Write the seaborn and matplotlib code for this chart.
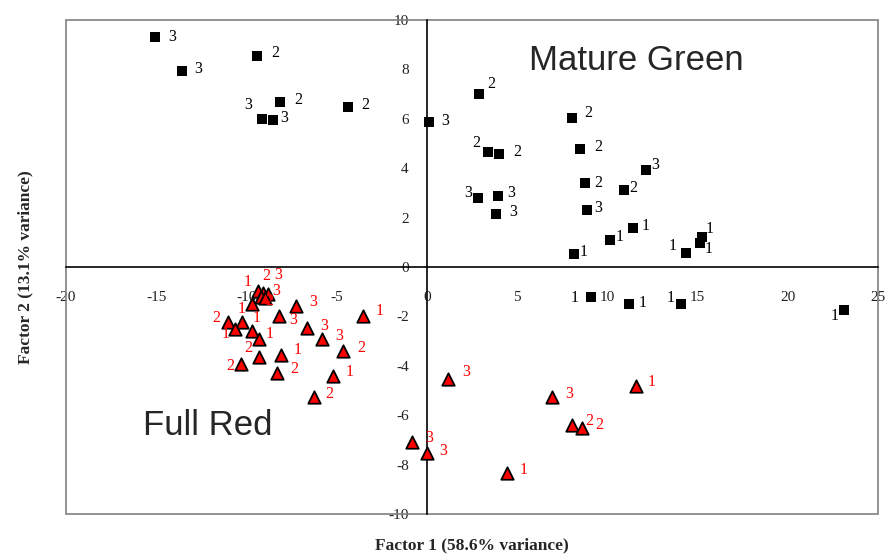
import matplotlib
matplotlib.use("Agg")
import matplotlib.pyplot as plt
from matplotlib.patches import Rectangle
import pandas as pd
import seaborn as sns

# Mature Green samples (black squares)
mg_x = [-15.07, -9.40, -13.59, -8.14, -9.12, -8.51, -4.36, 0.09, 2.88, 3.36,
        3.97, 2.83, 3.95, 3.81, 8.05, 8.48, 8.77, 8.85, 10.95, 12.17,
        8.13, 10.16, 11.43, 14.35, 15.12, 15.27, 9.07, 11.21, 14.11, 23.10]
mg_y = [9.32, 8.55, 7.94, 6.69, 5.99, 5.95, 6.47, 5.86, 6.99, 4.64,
        4.57, 2.81, 2.87, 2.15, 6.02, 4.79, 3.39, 2.31, 3.12, 3.91,
        0.53, 1.08, 1.57, 0.57, 0.98, 1.23, -1.23, -1.50, -1.50, -1.74]
mg_lab = ['3', '2', '3', '2', '3', '3', '2', '3', '2', '2',
          '2', '3', '3', '3', '2', '2', '2', '3', '2', '3',
          '1', '1', '1', '1', '1', '1', '1', '1', '1', '1']
# label offsets in pixels (right, down)
mg_dx = [17, 18, 17, 18, -14, 11, 17, 17, 12, -11,
         19, -10, 13, 18, 16, 18, 13, 12, 9, 9,
         10, 9, 13, -13, 9, 7, -16, 13, -11, -9]
mg_dy = [2, -1, 0, 0, -12, 0, 0, 1, -8, -7,
         0, -3, -1, 0, -3, 0, 2, 0, 0, -3,
         0, -1, 0, -5, 8, -6, 3, 1, -4, 8]

# Full Red samples (red triangles)
fr_x = [-9.36, -9.10, -8.81, -9.20, -8.98, -9.71, -11.02, -10.25, -10.62, -9.68,
        -9.29, -9.29, -10.29, -8.11, -8.31, -8.20, -7.26, -6.66, -5.82, -4.64,
        -5.22, -6.28, -3.56, 1.15, 6.93, 8.02, 8.57, 11.58, -0.85, -0.02, 4.42]
fr_y = [-0.96, -1.04, -1.09, -1.21, -1.25, -1.50, -2.21, -2.21, -2.52, -2.59,
        -2.93, -3.66, -3.93, -3.56, -4.30, -1.98, -1.58, -2.46, -2.93, -3.40,
        -4.41, -5.28, -1.98, -4.55, -5.25, -6.40, -6.53, -4.82, -7.07, -7.54, -8.33]
fr_lab = ['1', '2', '3', '3', '2', '1', '2', '1', '1', '',
          '1', '2', '2', '1', '2', '3', '3', '3', '3', '2',
          '1', '2', '1', '3', '3', '2', '2', '1', '3', '3', '1']
fr_dx = [-10, 4, 10, 15, 4, -10, -12, 15, -10, 0,
         10, -11, -11, 17, 17, 14, 17, 17, 17, 18,
         17, 16, 17, 19, 17, 18, 18, 16, 18, 17, 17]
fr_dy = [-7, -15, -17, -4, 5, 7, -2, -2, 7, 0,
         -3, -7, 4, -3, -2, 6, -2, 0, -1, -1,
         -2, -1, -3, -5, -1, -2, -1, -2, -2, 0, -1]

x_ticks = list(range(-20, 26, 5))
y_ticks = list(range(-10, 11, 2))

sns.set_style("white")
plt.rcParams['font.family'] = ['Liberation Serif', 'DejaVu Serif']
plt.rcParams['axes.unicode_minus'] = False

fig = plt.figure(figsize=(8.85, 5.54), dpi=100)
ax = fig.add_axes([66 / 885, 40 / 554, 812 / 885, 494 / 554])

green = pd.DataFrame({'x': mg_x, 'y': mg_y, 'lab': mg_lab})
red = pd.DataFrame({'x': fr_x, 'y': fr_y, 'lab': fr_lab})

sns.scatterplot(data=green, x='x', y='y', marker='s', color='black', s=50,
                linewidth=0, ax=ax, zorder=3, legend=False)
sns.scatterplot(data=red, x='x', y='y', marker='^', color='red', edgecolor='black',
                linewidth=1.3, s=80, ax=ax, zorder=3, legend=False)

for x, y, t, dx, dy in zip(mg_x, mg_y, mg_lab, mg_dx, mg_dy):
    ax.annotate(t, (x, y), xytext=(dx, -dy + 2), textcoords='offset pixels',
                ha='center', va='center', fontsize=11.5, color='black', zorder=4)
for x, y, t, dx, dy in zip(fr_x, fr_y, fr_lab, fr_dx, fr_dy):
    ax.annotate(t, (x, y), xytext=(dx, -dy + 2), textcoords='offset pixels',
                ha='center', va='center', fontsize=11.5, color='red', zorder=4)

ax.text(11.58, 8.38, 'Mature Green', fontsize=25, family='Liberation Sans',
        ha='center', va='center')
ax.text(-12.16, -6.43, 'Full Red', fontsize=25, family='Liberation Sans',
        ha='center', va='center')

ax.set_xlim(-20, 25)
ax.set_ylim(-10, 10)
ax.set_xticks(x_ticks)
ax.set_yticks(y_ticks)
ax.set_xlabel('')
ax.set_ylabel('')

for side in ['left', 'bottom']:
    ax.spines[side].set_position(('data', 0))
    ax.spines[side].set_color('black')
    ax.spines[side].set_linewidth(1.2)
    ax.spines[side].set_zorder(2)
for side in ['top', 'right']:
    ax.spines[side].set_visible(False)
ax.add_patch(Rectangle((0, 0), 1, 1, transform=ax.transAxes, fill=False,
                       edgecolor='#808080', linewidth=1.2, clip_on=False, zorder=1))

ax.tick_params(axis='both', direction='inout', length=8, width=1,
               labelsize=11, colors='black', labelcolor='#222222')
ax.tick_params(axis='x', pad=13)
ax.tick_params(axis='y', pad=9)

fig.text(472 / 885, 1 - 545 / 554, 'Factor 1 (58.6% variance)', fontsize=12.5,
         weight='bold', ha='center', va='center')
fig.text(25 / 885, 1 - 267 / 554, 'Factor 2 (13.1% variance)', fontsize=12.5,
         weight='bold', ha='center', va='center', rotation=90)

fig.savefig('out.png', dpi=100)
